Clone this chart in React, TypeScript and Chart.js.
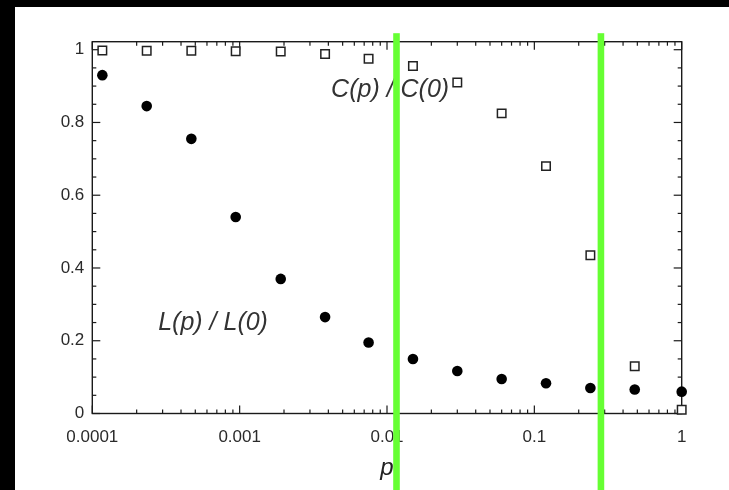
import { useEffect, useRef } from 'react';
import { Chart, registerables } from 'chart.js';

Chart.register(...registerables);

// Rewiring probability p (log scale)
const pValues = [0.000117, 0.000234, 0.00047, 0.00094, 0.0019, 0.0038, 0.0075, 0.015, 0.03, 0.06, 0.12, 0.24, 0.48, 1];
// Normalised clustering coefficient C(p)/C(0)
const clusteringRatio = [0.998, 0.997, 0.997, 0.996, 0.995, 0.988, 0.975, 0.955, 0.91, 0.825, 0.68, 0.435, 0.13, 0.01];
// Normalised characteristic path length L(p)/L(0)
const pathLengthRatio = [0.93, 0.845, 0.755, 0.54, 0.37, 0.265, 0.195, 0.15, 0.117, 0.095, 0.083, 0.07, 0.066, 0.06];

const xTickValues = [0.0001, 0.001, 0.01, 0.1, 1];
const xTickLabels = ['0.0001', '0.001', '0.01', '0.1', '1'];
const yTickValues = [0, 0.2, 0.4, 0.6, 0.8, 1];
const yTickLabels = ['0', '0.2', '0.4', '0.6', '0.8', '1'];

// Highlighted p values (vertical guide lines)
const guideLines = [0.0116, 0.283];

// Curve labels: [text, p, value]
const curveLabels: [string, number, number][] = [
  ['C(p) / C(0)', 0.0105, 0.89],
  ['L(p) / L(0)', 0.00066, 0.25],
];

const FONT = '"Liberation Sans", Arial, sans-serif';
const INK = '#1a1a1a';

const OFFSET_X = 15;
const OFFSET_Y = 7;
const W = 729 - OFFSET_X;
const H = 490 - OFFSET_Y;

const framePlugin = {
  id: 'frameTicks',
  beforeDatasetsDraw(chart: any) {
    const { ctx, chartArea: a, scales } = chart;
    const x = scales.x;
    const y = scales.y;
    ctx.save();
    ctx.strokeStyle = INK;
    ctx.lineWidth = 1.4;
    ctx.strokeRect(a.left, a.top, a.right - a.left, a.bottom - a.top);
    ctx.lineWidth = 1.2;
    const seg = (x1: number, y1: number, x2: number, y2: number) => {
      ctx.beginPath();
      ctx.moveTo(x1, y1);
      ctx.lineTo(x2, y2);
      ctx.stroke();
    };
    // log ticks on bottom and top edges
    for (let e = -4; e <= 0; e++) {
      for (let k = 1; k <= 9; k++) {
        const v = k * Math.pow(10, e);
        if (v > 1.0001) break;
        const px = x.getPixelForValue(v);
        const len = k === 1 ? 8 : 4;
        seg(px, a.bottom, px, a.bottom - len);
        seg(px, a.top, px, a.top + len);
      }
    }
    // linear ticks on left and right edges
    for (let i = 0; i <= 20; i++) {
      const v = i * 0.05;
      const py = y.getPixelForValue(v);
      const len = i % 4 === 0 ? 8 : 4;
      seg(a.left, py, a.left + len, py);
      seg(a.right, py, a.right - len, py);
    }
    ctx.restore();
  },
  afterDatasetsDraw(chart: any) {
    const { ctx, scales } = chart;
    ctx.save();
    ctx.fillStyle = '#333';
    ctx.font = `italic 25px ${FONT}`;
    ctx.textAlign = 'center';
    ctx.textBaseline = 'middle';
    for (const [text, p, v] of curveLabels) {
      ctx.fillText(text, scales.x.getPixelForValue(p), scales.y.getPixelForValue(v));
    }
    ctx.restore();
  },
  afterDraw(chart: any) {
    const { ctx, scales, chartArea: a } = chart;
    ctx.save();
    ctx.fillStyle = '#66ff33';
    for (const p of guideLines) {
      const px = scales.x.getPixelForValue(p);
      ctx.fillRect(px - 3.3, a.top - 8.5, 6.6, chart.height);
    }
    ctx.restore();
  },
};

export default function App() {
  const canvasRef = useRef<HTMLCanvasElement | null>(null);

  useEffect(() => {
    const canvas = canvasRef.current;
    if (!canvas) return;
    const chart = new Chart(canvas, {
      type: 'scatter',
      data: {
        datasets: [
          {
            label: 'C(p) / C(0)',
            data: pValues.map((p, i) => ({ x: p, y: clusteringRatio[i] })),
            pointStyle: 'rect',
            pointRadius: 6,
            backgroundColor: '#ffffff',
            borderColor: '#222',
            borderWidth: 1.5,
            clip: false,
          },
          {
            label: 'L(p) / L(0)',
            data: pValues.map((p, i) => ({ x: p, y: pathLengthRatio[i] })),
            pointStyle: 'circle',
            pointRadius: 5.3,
            backgroundColor: '#000',
            borderColor: '#000',
            borderWidth: 0,
            clip: false,
          },
        ],
      },
      options: {
        responsive: false,
        animation: false,
        devicePixelRatio: 1,
        layout: { padding: { top: 41.7 - OFFSET_Y, right: 729 - 681.7, bottom: 0, left: 0 } },
        plugins: { legend: { display: false }, tooltip: { enabled: false } },
        scales: {
          x: {
            type: 'logarithmic',
            min: 0.0001,
            max: 1,
            grid: { display: false, drawTicks: false },
            border: { display: false },
            afterBuildTicks: (s: any) => {
              s.ticks = xTickValues.map((v) => ({ value: v }));
            },
            afterFit: (s: any) => {
              s.height = 490 - 413.5;
            },
            ticks: {
              autoSkip: false,
              maxRotation: 0,
              padding: 14,
              color: '#2a2a2a',
              font: { family: FONT, size: 17 },
              callback: (_v: any, i: number) => xTickLabels[i],
            },
            title: {
              display: true,
              text: 'p',
              color: '#222',
              font: { family: FONT, size: 24, style: 'italic' },
              padding: { top: 0, bottom: 7 },
            },
          },
          y: {
            type: 'linear',
            min: 0,
            max: 1.022,
            grid: { display: false, drawTicks: false },
            border: { display: false },
            afterBuildTicks: (s: any) => {
              s.ticks = yTickValues.map((v) => ({ value: v }));
            },
            afterFit: (s: any) => {
              s.width = 92.3 - OFFSET_X;
            },
            ticks: {
              autoSkip: false,
              padding: 8,
              color: '#2a2a2a',
              font: { family: FONT, size: 17 },
              callback: (_v: any, i: number) => yTickLabels[i],
            },
          },
        },
      },
      plugins: [framePlugin],
    });
    return () => chart.destroy();
  }, []);

  return (
    <div style={{ position: 'fixed', inset: 0, background: '#000' }}>
      <div
        style={{
          position: 'absolute',
          left: OFFSET_X,
          top: OFFSET_Y,
          width: W,
          height: H,
          background: '#fff',
        }}
      >
        <canvas ref={canvasRef} width={W} height={H} style={{ display: 'block' }} />
      </div>
    </div>
  );
}
